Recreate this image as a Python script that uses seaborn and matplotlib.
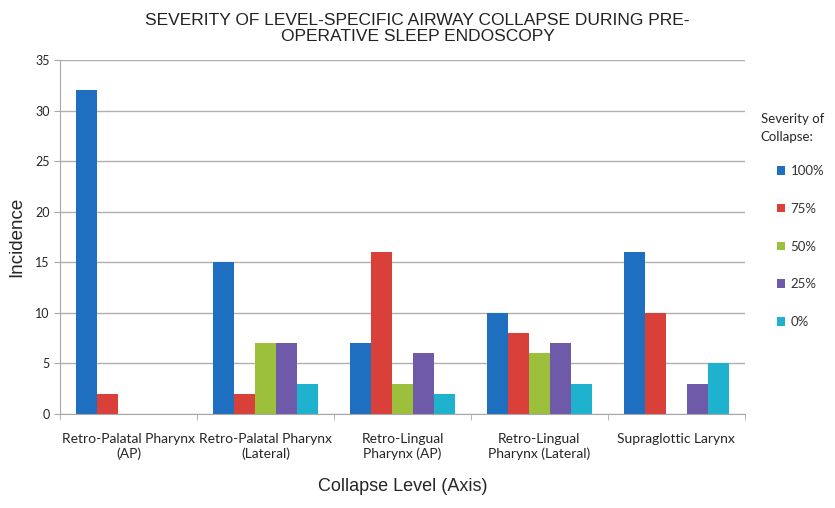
import pandas as pd
import matplotlib.pyplot as plt
import seaborn as sns

# chart data
levels = ["Retro-Palatal Pharynx\n(AP)", "Retro-Palatal Pharynx\n(Lateral)",
          "Retro-Lingual\nPharynx (AP)", "Retro-Lingual\nPharynx (Lateral)",
          "Supraglottic Larynx"]
severity = ["100%", "75%", "50%", "25%", "0%"]
sev_100 = [32, 15, 7, 10, 16]
sev_75 = [2, 2, 16, 8, 10]
sev_50 = [0, 7, 3, 6, 0]
sev_25 = [0, 7, 6, 7, 3]
sev_0 = [0, 3, 2, 3, 5]

colours = ["#1f6fc0", "#d9403a", "#9cbf3c", "#6e5aa8", "#1fb2cf"]

rows = []
for sev, vals in zip(severity, [sev_100, sev_75, sev_50, sev_25, sev_0]):
    for lvl, v in zip(levels, vals):
        rows.append({"Level": lvl, "Severity": sev, "Incidence": v})
df = pd.DataFrame(rows)

sns.set_style("white")
plt.rcParams['font.family'] = ['Lato', 'DejaVu Sans']

fig = plt.figure(figsize=(8.35, 5.08), dpi=100)
ax = fig.add_axes([0.072, 0.185, 0.82, 0.697])

sns.barplot(data=df, x="Level", y="Incidence", hue="Severity",
            order=levels, hue_order=severity, palette=colours,
            width=0.77, saturation=1, edgecolor="none", ax=ax)

ax.set_ylim(0, 35)
ax.set_xlim(-0.5, 4.5)
ax.set_yticks(range(0, 36, 5))
ax.yaxis.grid(True, color="#b0b0b0", linewidth=1)
ax.set_axisbelow(True)
for s in ["top", "right"]:
    ax.spines[s].set_visible(False)
for s in ["left", "bottom"]:
    ax.spines[s].set_color("#a8a8a8")

ax.set_xticks([i - 0.5 for i in range(6)], minor=True)
ax.tick_params(axis="x", which="major", length=0, labelsize=10, pad=14)
ax.tick_params(axis="x", which="minor", length=4, color="#a8a8a8", bottom=True)
ax.tick_params(axis="y", length=4, color="#a8a8a8", labelsize=9, left=True)

ax.set_ylabel("Incidence", fontsize=13.5, family="Liberation Sans", labelpad=7)
ax.set_xlabel("Collapse Level (Axis)", fontsize=13, family="Liberation Sans", labelpad=13)
fig.suptitle("SEVERITY OF LEVEL-SPECIFIC AIRWAY COLLAPSE DURING PRE-\nOPERATIVE SLEEP ENDOSCOPY",
             y=0.975, fontsize=12.5, family="Liberation Sans",
             color="#222222", linespacing=1.1)

ax.get_legend().remove()
handles, labels = ax.get_legend_handles_labels()
leg = fig.legend(handles, labels, title="Severity of\nCollapse:",
                 loc="upper right", bbox_to_anchor=(0.998, 0.795), frameon=False,
                 borderpad=0.2, fontsize=9.5, title_fontsize=9.5, labelspacing=1.95,
                 handlelength=0.6, handleheight=0.6, handletextpad=0.4)
leg._legend_box.align = "right"
leg.get_title().set_linespacing(1.55)
leg._legend_box.sep = 16
for t in leg.get_texts():
    t.set_color("#333333")

fig.savefig("out.png", dpi=100)
